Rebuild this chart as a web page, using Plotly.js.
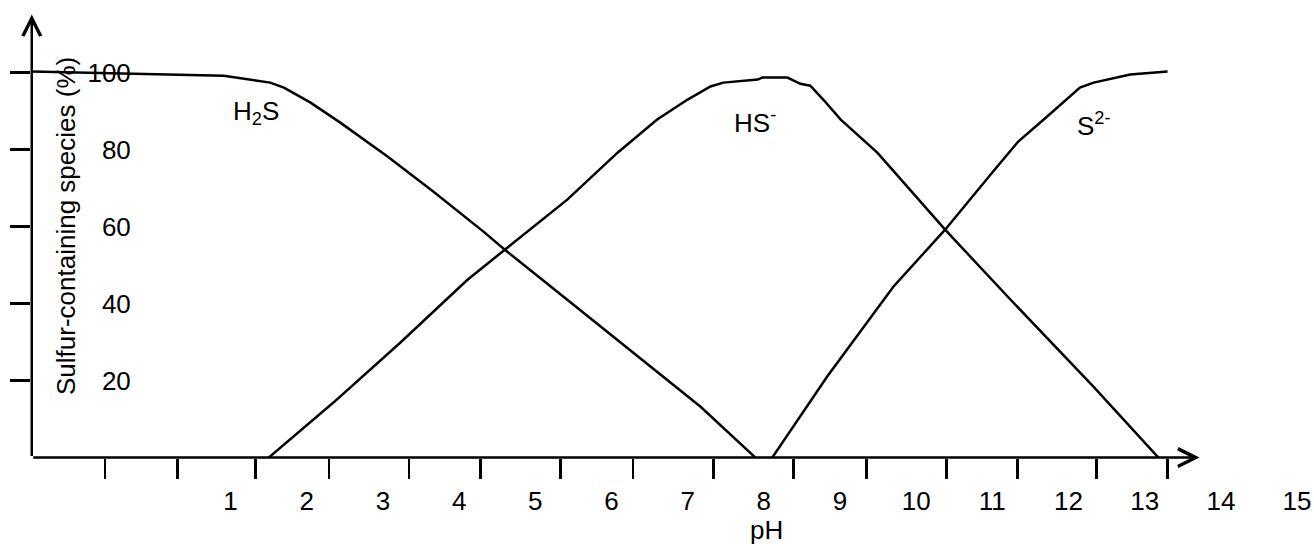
<!DOCTYPE html>
<html>
<head>
<meta charset="utf-8">
<script src="https://cdn.plot.ly/plotly-3.0.1.min.js"></script>
<style>
  body { margin: 0; background: #fff; }
  #myDiv { width: 1314px; height: 544px; }
</style>
</head>
<body>
<div id="myDiv"></div>
<script>
// species distribution (pH, % of total sulfur)
var h2sPH  = [-1.61, 0.91, 1.52, 1.70, 2.05, 2.44, 3.06, 3.66, 4.32, 4.60, 5.42, 6.29, 7.17, 7.89];
var h2sPct = [100.3, 99.2, 97.4, 96.1, 92.2, 87.0, 78.2, 69.1, 58.7, 54.0, 41.0, 27.3, 13.2, 0];

var hsPH  = [1.50, 2.35, 3.23, 4.11, 4.60, 5.42, 6.08, 6.60, 7.00, 7.30, 7.47, 7.92, 7.98, 8.31, 8.48, 8.61, 8.78, 9.01, 9.49, 10.38, 11.24, 12.33, 13.18];
var hsPct = [0, 14.3, 29.9, 46.2, 54.0, 67.0, 79.2, 87.8, 93.0, 96.4, 97.4, 98.2, 98.7, 98.7, 97.1, 96.6, 93.0, 87.8, 79.2, 59.2, 41.0, 18.4, 0];

var s2PH  = [8.11, 8.83, 9.70, 10.38, 11.01, 11.34, 11.72, 12.15, 12.33, 12.81, 13.30];
var s2Pct = [0, 21.0, 44.4, 59.2, 74.3, 82.1, 88.6, 96.1, 97.4, 99.5, 100.3];

// tick marks on the pH axis sit off the labels in the original drawing
var xTickPos = [-0.65, 0.30, 1.33, 2.29, 3.34, 4.28, 5.33, 6.28, 7.34, 8.39, 9.35, 10.40, 11.33, 12.37, 13.30];
var xLabels  = [1, 2, 3, 4, 5, 6, 7, 8, 9, 10, 11, 12, 13, 14, 15];
var yTicks   = [20, 40, 60, 80, 100];

var font = "Arial, 'Liberation Sans', sans-serif";
var line = { color: "#000", width: 2.5 };

var data = [
  { x: h2sPH, y: h2sPct, name: "H2S", type: "scatter", mode: "lines", line: line, hoverinfo: "skip" },
  { x: hsPH, y: hsPct, name: "HS-", type: "scatter", mode: "lines", line: line, hoverinfo: "skip" },
  { x: s2PH, y: s2Pct, name: "S2-", type: "scatter", mode: "lines", line: line, hoverinfo: "skip" }
];

var xr = [-1.62, 15.17];
var yr = [-0.1, 116.26];

var layout = {
  width: 1314,
  height: 544,
  autosize: false,
  showlegend: false,
  paper_bgcolor: "#fff",
  plot_bgcolor: "#fff",
  margin: { l: 31, r: 4, t: 10, b: 86, pad: 0 },
  font: { family: font, size: 26, color: "#000" },
  xaxis: {
    range: xr,
    showgrid: false, zeroline: false, showline: false,
    tickmode: "array", tickvals: xLabels, ticktext: xLabels.map(String),
    ticks: "", ticklabelstandoff: 25,
    tickfont: { family: font, size: 26, color: "#000" },
    minor: {
      tickmode: "array", tickvals: xTickPos,
      ticks: "outside", ticklen: 20, tickwidth: 2.5, tickcolor: "#000", showgrid: false
    }
  },
  yaxis: {
    range: yr,
    showgrid: false, zeroline: false, showline: false,
    tickmode: "array", tickvals: yTicks,
    ticks: "outside", ticklen: 20, tickwidth: 2.5, tickcolor: "#000",
    ticklabelstandoff: -126,
    tickfont: { family: font, size: 26, color: "#000" }
  },
  annotations: [
    // axes drawn as arrows
    { x: 13.72, y: 0, ax: -1.61, ay: 0, xref: "x", yref: "y", axref: "x", ayref: "y",
      text: "", showarrow: true, arrowhead: 5, arrowsize: 1.4, arrowwidth: 2.5, arrowcolor: "#000",
      standoff: 0, startstandoff: 0 },
    { x: -1.61, y: 115.1, ax: -1.61, ay: 0, xref: "x", yref: "y", axref: "x", ayref: "y",
      text: "", showarrow: true, arrowhead: 5, arrowsize: 1.4, arrowwidth: 2.5, arrowcolor: "#000",
      standoff: 0, startstandoff: 0 },
    // species labels
    { x: 1.33, y: 89.6, xref: "x", yref: "y", text: "H<sub>2</sub>S", showarrow: false },
    { x: 7.89, y: 87.3, xref: "x", yref: "y", text: "HS<sup>-</sup>", showarrow: false },
    { x: 12.33, y: 86.5, xref: "x", yref: "y", text: "S<sup>2-</sup>", showarrow: false },
    // axis titles
    { x: 0.0274, y: 0.518, xref: "paper", yref: "paper", text: "Sulfur-containing species (%)",
      textangle: -90, showarrow: false, xanchor: "center", yanchor: "middle" },
    { x: 0.5747, y: -0.160, xref: "paper", yref: "paper", text: "pH",
      showarrow: false, xanchor: "center", yanchor: "middle" }
  ]
};

Plotly.newPlot("myDiv", data, layout, { staticPlot: true });
</script>
</body>
</html>
